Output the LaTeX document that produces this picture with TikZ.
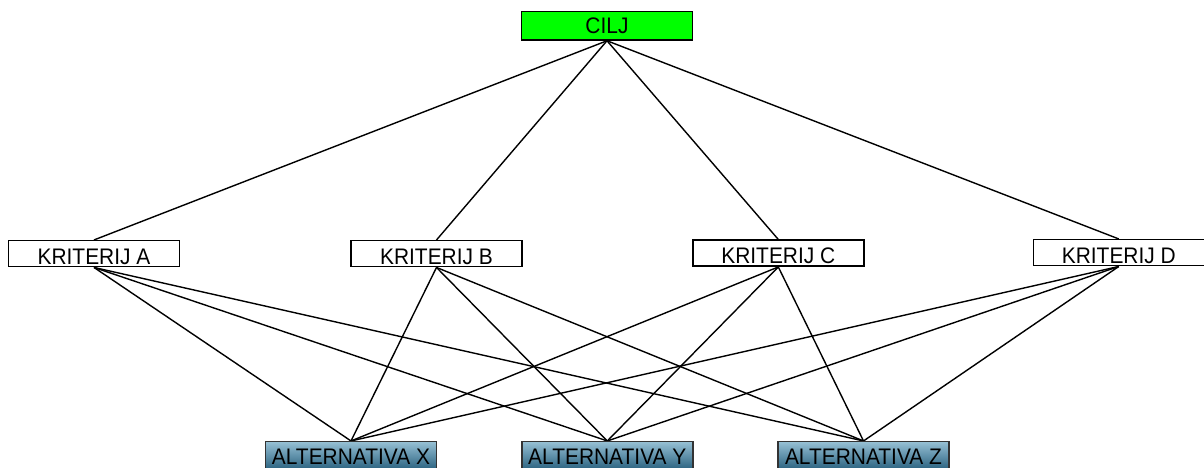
\documentclass[tikz,border=0pt]{standalone}
\usepackage{fontspec}
\setmainfont{Liberation Sans}[FakeStretch=0.93]
\usetikzlibrary{backgrounds}
\definecolor{goalgreen}{RGB}{0,255,0}
\definecolor{alttop}{RGB}{150,192,212}
\definecolor{altbot}{RGB}{40,96,126}
\begin{document}
\begin{tikzpicture}[x=1pt,y=-1pt,
  every node/.style={inner sep=0pt, font=\fontsize{22.5}{24}\selectfont},
  goalbox/.style={draw=black, line width=1.5pt, fill=goalgreen, minimum width=171pt, text height=21.6pt, text depth=6.7pt},
  critbox/.style={draw=black, line width=1.5pt, fill=white, minimum width=171pt, text height=23.6pt, text depth=2.4pt},
  altbox/.style={draw=black!80, line width=1.5pt, top color=alttop, bottom color=altbot, minimum width=171pt, text height=22.3pt, text depth=6pt},
  link/.style={draw=black, line width=1.4pt}]
\useasboundingbox (0,0) rectangle (1204,467);
\node[goalbox] (cilj) at (607,25.85) {CILJ};
\node[critbox] (ka) at (94,253.7) {KRITERIJ A};
\node[critbox] (kb) at (436.5,253.7) {KRITERIJ B};
\node[critbox] (kc) at (778.3,253.2) {KRITERIJ C};
\node[critbox] (kd) at (1118.8,252.7) {KRITERIJ D};
\node[altbox] (ax) at (351,455.85) {ALTERNATIVA X};
\node[altbox] (ay) at (607.3,455.85) {ALTERNATIVA Y};
\node[altbox] (az) at (863.5,455.85) {ALTERNATIVA Z};
\begin{scope}[on background layer]
\foreach \k in {ka,kb,kc,kd}{
  \draw[link] (cilj.south) -- (\k.north);
  \foreach \a in {ax,ay,az}{
    \draw[link] (\k.south) -- (\a.north);
  }
}
\end{scope}
\end{tikzpicture}
\end{document}
